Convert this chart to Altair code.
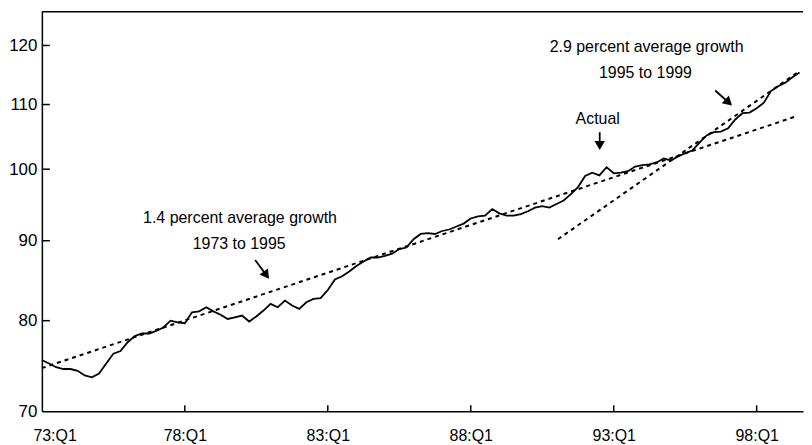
import altair as alt
import pandas as pd

# ---- data (index, log scale) ----
start_year = 1973
actual = [
    75.5, 75.1, 74.7, 74.5, 74.5, 74.3, 73.8, 73.6, 74.0, 75.1,
    76.2, 76.5, 77.5, 78.2, 78.5, 78.5, 78.8, 79.2, 80.0, 79.8,
    79.7, 81.0, 81.1, 81.6, 81.1, 80.7, 80.2, 80.4, 80.6, 79.9,
    80.5, 81.2, 82.0, 81.6, 82.4, 81.8, 81.4, 82.2, 82.6, 82.7,
    83.7, 85.0, 85.4, 86.0, 86.7, 87.3, 87.8, 87.8, 88.0, 88.3,
    88.9, 89.1, 90.2, 90.9, 91.0, 90.9, 91.3, 91.5, 91.9, 92.3,
    93.0, 93.3, 93.4, 94.3, 93.7, 93.4, 93.4, 93.6, 94.0, 94.5,
    94.7, 94.5, 95.0, 95.5, 96.4, 97.4, 99.0, 99.5, 99.1, 100.3,
    99.4, 99.5, 99.7, 100.4, 100.6, 100.7, 101.0, 101.6, 101.3, 101.9,
    102.4, 102.8, 104.0, 105.1, 105.6, 105.7, 106.2, 107.6, 108.6, 108.7,
    109.4, 110.3, 112.2, 113.0, 113.6, 114.5, 115.3,
]
trend1_year = [1973.0, 1999.38]
trend1_value = [74.6, 108.1]
trend2_year = [1991.05, 1999.48]
trend2_value = [90.2, 115.5]

x_tick_years = [1973, 1978, 1983, 1988, 1993, 1998]
y_tick_values = [70, 80, 90, 100, 110, 120]

ann_text = ["1.4 percent average growth", "1973 to 1995",
            "2.9 percent average growth", "1995 to 1999", "Actual"]
ann_year = [1979.93, 1979.90, 1994.15, 1994.11, 1992.44]
ann_value = [93.0, 89.55, 119.8, 115.2, 107.6]

arrow_year = [1980.46, 1996.55, 1992.51]
arrow_value = [87.47, 112.3, 105.6]
arrow_year2 = [1980.90, 1997.10, 1992.51]
arrow_value2 = [85.3, 110.0, 103.3]
head_year = [1980.82, 1996.98, 1992.51]
head_value = [85.7, 110.5, 103.8]
head_angle = [144, 133, 180]

# ---- tables ----
df_actual = pd.DataFrame({"year": [start_year + i / 4 for i in range(len(actual))],
                          "value": actual})
df_t1 = pd.DataFrame({"year": trend1_year, "value": trend1_value})
df_t2 = pd.DataFrame({"year": trend2_year, "value": trend2_value})
df_ann = pd.DataFrame({"year": ann_year, "value": ann_value, "text": ann_text})
df_arrow = pd.DataFrame({"year": arrow_year, "value": arrow_value,
                         "year2": arrow_year2, "value2": arrow_value2})
df_head = pd.DataFrame({"year": head_year, "value": head_value, "angle": head_angle})
df_xt = pd.DataFrame({"year": x_tick_years[1:]})
df_yt = pd.DataFrame({"value": y_tick_values[1:]})
df_one = pd.DataFrame({"a": [0]})

W, H = 764, 401
FONT = "Liberation Sans"

x_scale = alt.Scale(domain=[1973, 1999.62], nice=False, zero=False)
y_scale = alt.Scale(type="log", domain=[70, 126.1], nice=False)

x_axis = alt.Axis(
    values=x_tick_years,
    labelExpr="slice(toString(datum.value), 2) + ':Q1'",
    ticks=False, grid=False, title=None,
    domainColor="black", domainWidth=1.5,
    labelFont=FONT, labelFontSize=16, labelColor="black",
    labelPadding=16,
    labelOffset={"condition": {"test": "datum.value == 1973", "value": -9}, "value": 0},
)
y_axis = alt.Axis(
    values=y_tick_values,
    ticks=False, grid=False, title=None,
    domainColor="black", domainWidth=1.5,
    labelFont=FONT, labelFontSize=17, labelColor="black",
    labelPadding=5,
)

X = alt.X("year:Q", scale=x_scale, axis=x_axis)
Y = alt.Y("value:Q", scale=y_scale, axis=y_axis)

line_actual = alt.Chart(df_actual).mark_line(color="black", strokeWidth=1.8).encode(x=X, y=Y)
line_t1 = alt.Chart(df_t1).mark_line(color="black", strokeWidth=2, strokeDash=[4, 4]).encode(x=X, y=Y)
line_t2 = alt.Chart(df_t2).mark_line(color="black", strokeWidth=2, strokeDash=[4, 4]).encode(x=X, y=Y)

texts = alt.Chart(df_ann).mark_text(font=FONT, fontSize=16, color="black",
                                    align="center", baseline="middle").encode(
    x=X, y=Y, text="text:N")

shafts = alt.Chart(df_arrow).mark_rule(color="black", strokeWidth=1.8).encode(
    x=X, y=Y, x2="year2:Q", y2="value2:Q")
heads = alt.Chart(df_head).mark_point(shape="triangle", filled=True, size=110,
                                      color="black", opacity=1).encode(
    x=X, y=Y, angle=alt.Angle("angle:Q", scale=None))

xticks = alt.Chart(df_xt).mark_rule(color="black", strokeWidth=1.5).encode(
    x=X, y=alt.value(H), y2=alt.value(H - 6))
yticks = alt.Chart(df_yt).mark_rule(color="black", strokeWidth=1.5).encode(
    y=Y, x=alt.value(0), x2=alt.value(8))
top_border = alt.Chart(df_one).mark_rule(color="black", strokeWidth=1.5).encode(
    x=alt.value(0), x2=alt.value(W), y=alt.value(0))

chart = alt.layer(
    line_t1, line_t2, line_actual, texts, shafts, heads, xticks, yticks, top_border
).properties(
    width=W, height=H,
    padding={"left": 0, "top": 2, "right": 0, "bottom": 0},
    background="white",
).configure_view(stroke=None)

chart.save("out.html", embed_options={"renderer": "svg", "actions": False})
